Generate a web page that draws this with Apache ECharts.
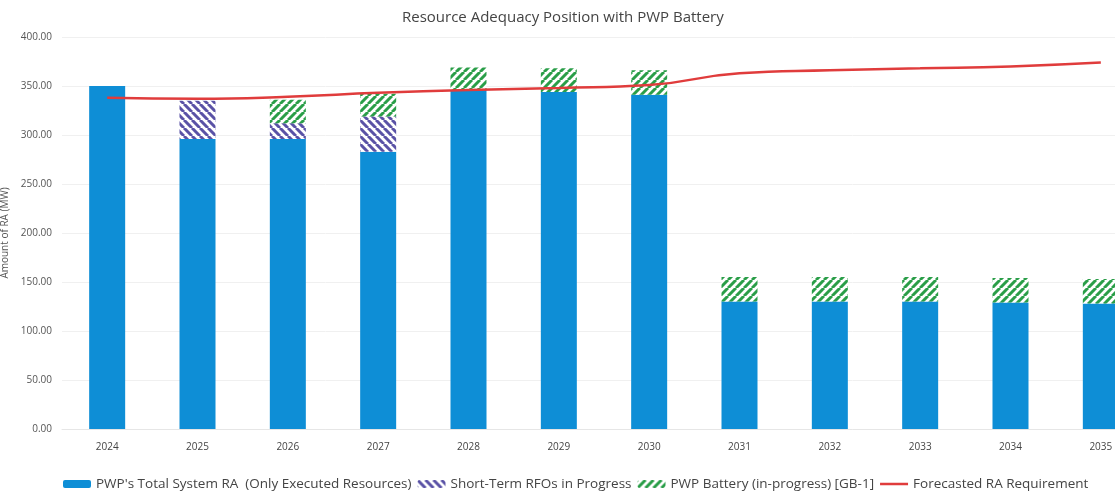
<!DOCTYPE html>
<html>
<head>
<meta charset="utf-8">
<script src="https://cdn.jsdelivr.net/npm/echarts@6/dist/echarts.min.js"></script>
<style>
  html, body { margin: 0; padding: 0; background: #fff; }
  #chart-ra { width: 1115px; height: 491px; }
</style>
</head>
<body>
<div id="chart-ra"></div>
<script>
const years = ['2024', '2025', '2026', '2027', '2028', '2029', '2030', '2031', '2032', '2033', '2034', '2035'];
const executedRA = [350, 296, 296, 283, 346, 344, 341, 130, 130, 130, 129, 128];
const shortTermRFOs = [0, 39, 16, 36, 0, 0, 0, 0, 0, 0, 0, 0];
const pwpBattery = [0, 0, 24, 23, 23, 24, 25, 25, 25, 25, 25, 25];
const raRequirement = [338, 337, 339, 343, 346, 348, 351, 363, 366, 368, 370, 374];

// diagonal stripe fill, dir 1 = "/", -1 = "\"
function stripes(color, dir) {
  const size = 8;
  const c = document.createElement('canvas');
  c.width = size;
  c.height = size;
  const ctx = c.getContext('2d');
  ctx.fillStyle = '#fff';
  ctx.fillRect(0, 0, size, size);
  ctx.strokeStyle = color;
  ctx.lineWidth = 3;
  ctx.beginPath();
  for (let k = -1; k <= 1; k++) {
    if (dir > 0) {
      ctx.moveTo(k * size, size);
      ctx.lineTo(k * size + size, 0);
    } else {
      ctx.moveTo(k * size, 0);
      ctx.lineTo(k * size + size, size);
    }
  }
  ctx.stroke();
  return { image: c, repeat: 'repeat' };
}

// thin line icon for the legend (tiny points at top/bottom keep the box 8px tall)
const lineIcon = 'path://M0,0 L0.01,0 L0,0 Z M0,2.8 L28,2.8 L28,5.2 L0,5.2 Z M0,8 L0.01,8 L0,8 Z';

const element = document.getElementById('chart-ra');
const chart = echarts.init(element, null, { width: 1115, height: 491 });
chart.setOption({
  animation: false,
  textStyle: {
    fontFamily: 'Open Sans',
  },
  title: {
    text: 'Resource Adequacy Position with PWP Battery',
    left: 397,
    top: 5,
    textStyle: {
      fontFamily: 'Open Sans',
      fontSize: 15,
      fontWeight: 'normal',
      color: '#444',
    },
  },
  legend: {
    left: 58,
    top: 472,
    itemWidth: 28,
    itemHeight: 8,
    itemGap: 6,
    textStyle: {
      fontFamily: 'Open Sans',
      fontSize: 13.5,
      color: '#444',
    },
    data: [
      { name: "PWP's Total System RA  (Only Executed Resources)" },
      { name: 'Short-Term RFOs in Progress' },
      { name: 'PWP Battery (in-progress) [GB-1]' },
      { name: 'Forecasted RA Requirement', icon: lineIcon },
    ],
  },
  grid: {
    left: 62,
    top: 37,
    width: 1084,
    bottom: 62,
    containLabel: false,
    outerBoundsMode: 'none',
  },
  xAxis: [
    {
      type: 'category',
      data: years,
      axisTick: { show: false },
      axisLine: { lineStyle: { color: '#e6e6e6' } },
      axisLabel: {
        fontFamily: 'Open Sans',
        fontSize: 10,
        color: '#444',
        margin: 13,
      },
    },
  ],
  yAxis: [
    {
      type: 'value',
      min: 0,
      max: 400,
      interval: 50,
      name: 'Amount of RA (MW)',
      nameLocation: 'center',
      nameGap: 48,
      nameTextStyle: {
        fontFamily: 'Open Sans',
        fontSize: 10,
        color: '#555',
      },
      axisLabel: {
        fontFamily: 'Open Sans',
        fontSize: 10,
        color: '#555',
        margin: 10,
        formatter: (v) => v.toFixed(2),
      },
      splitLine: { lineStyle: { color: '#f0f0f0' } },
    },
  ],
  series: [
    {
      name: "PWP's Total System RA  (Only Executed Resources)",
      type: 'bar',
      stack: 'ra',
      barWidth: 36,
      itemStyle: { color: '#0e8ed6' },
      data: executedRA,
    },
    {
      name: 'Short-Term RFOs in Progress',
      type: 'bar',
      stack: 'ra',
      barWidth: 36,
      itemStyle: { color: stripes('#5a52a6', -1) },
      data: shortTermRFOs,
    },
    {
      name: 'PWP Battery (in-progress) [GB-1]',
      type: 'bar',
      stack: 'ra',
      barWidth: 36,
      itemStyle: { color: stripes('#2a9e48', 1) },
      data: pwpBattery,
    },
    {
      name: 'Forecasted RA Requirement',
      type: 'line',
      smooth: true,
      symbol: 'none',
      z: 5,
      lineStyle: { color: '#e03c3c', width: 2.5 },
      itemStyle: { color: '#e03c3c' },
      data: raRequirement,
    },
  ],
});
</script>
</body>
</html>
